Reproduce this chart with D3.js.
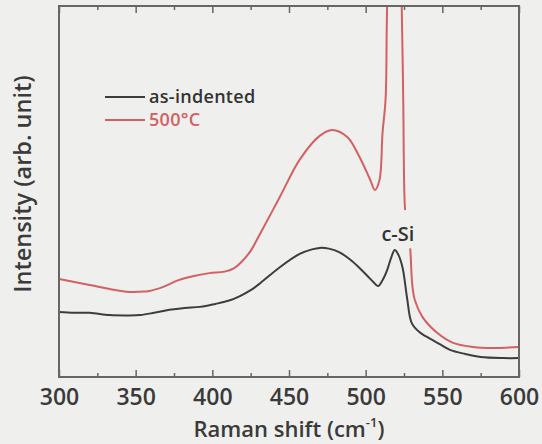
<!DOCTYPE html>
<html><head><meta charset="utf-8">
<script src="https://cdn.jsdelivr.net/npm/d3@7"></script>
<style>
html,body{margin:0;padding:0;background:#efefed;}
svg{display:block;}
text{font-family:"Open Sans",sans-serif;}
</style></head>
<body>
<svg id="chart" width="542" height="444"></svg>
<script>
// Raman shift (cm-1)
const asIndentedX = [300,310,320,333,345,353,362,372,382,392,402,411,418,425,431,444,457,465,470,476,483,490,496,501,505,508,511,514,517,519,521,524,527,530,535,540,548,555,565,575,590,600];
const asIndentedY = [17.5,17.3,17.3,16.7,16.6,16.7,17.3,18.1,18.6,18.9,19.7,20.6,21.8,23.4,25.2,29.6,33.2,34.4,34.8,34.6,33.6,31.6,29.4,27.3,25.6,24.5,26.1,28.8,32.6,34.2,33.2,29.6,21.3,14.6,12.1,10.8,8.9,7.3,6.2,5.4,5.1,5.1];
const annealedX = [300,310,320,333,346,353,359,368,378,388,398,408,414,419,425,431,444,457,470,478,488,496,503,506,509,511,513,514,519,523.5,524.5,525.7,527.5,529,530.3,532,537,546.6,557,570,583,600];
const annealedY = [26.4,25.6,24.8,23.7,22.9,23.0,23.2,24.3,26.1,27.2,28.0,28.4,29.3,31.0,34.0,38.5,48.5,58.6,65.0,66.6,64.7,59.3,53.1,50.4,53.1,65.8,75,100,160,100,74.7,45.0,39,34.8,25.3,20.8,16.2,11.9,9.2,8.1,7.8,8.1];
const seriesNames = ["as-indented","500°C"];
const seriesColors = ["#3d3d3d","#d36062"];
const xMajorTicks = [300,350,400,450,500,550,600];
const xMinorTicks = [325,375,425,475,525,575];

const svg = d3.select("#chart");
const L=59, R=519, T=6, B=377;
const x = d3.scaleLinear().domain([300,600]).range([L,R]);
const y = d3.scaleLinear().domain([0,100]).range([B,T]);

svg.append("defs").append("clipPath").attr("id","clip")
  .append("rect").attr("x",L).attr("y",T).attr("width",R-L).attr("height",B-T);

const line = d3.line().x(d=>x(d[0])).y(d=>y(d[1])).curve(d3.curveCatmullRom.alpha(0.5));
const s1 = asIndentedX.map((v,i)=>[v,asIndentedY[i]]);
const s2 = annealedX.map((v,i)=>[v,annealedY[i]]);

const g = svg.append("g").attr("clip-path","url(#clip)");
g.append("path").datum(s2).attr("d",line).attr("fill","none").attr("stroke",seriesColors[1]).attr("stroke-width",2);
g.append("path").datum(s1).attr("d",line).attr("fill","none").attr("stroke",seriesColors[0]).attr("stroke-width",2);

// c-Si label with background
svg.append("rect").attr("x",x(512)).attr("y",y(45)).attr("width",x(530)-x(512)).attr("height",y(34.8)-y(45)+0.5).attr("fill","#efefed");
svg.append("text").attr("x",x(521)).attr("y",241).attr("text-anchor","middle")
  .attr("font-size",20).attr("font-weight",600).attr("fill","#333").text("c-Si");

// axes
const axColor="#666";
const bAx = svg.append("g").attr("transform",`translate(0,${B})`)
  .call(d3.axisBottom(x).tickValues(xMajorTicks).tickSize(-7).tickPadding(12).tickFormat(d3.format("d")));
const bMin = svg.append("g").attr("transform",`translate(0,${B})`)
  .call(d3.axisBottom(x).tickValues(xMinorTicks).tickSize(-4).tickFormat(""));
const tAx = svg.append("g").attr("transform",`translate(0,${T})`)
  .call(d3.axisTop(x).tickValues(xMajorTicks).tickSize(-7).tickFormat(""));
const tMin = svg.append("g").attr("transform",`translate(0,${T})`)
  .call(d3.axisTop(x).tickValues(xMinorTicks).tickSize(-4).tickFormat(""));
[bAx,bMin,tAx,tMin].forEach(a=>{
  a.select(".domain").remove();
  a.selectAll(".tick line").attr("stroke",axColor).attr("stroke-width",1.5);
});
bAx.selectAll(".tick text").attr("font-size",23).attr("font-weight",600).attr("fill","#3a3a3a").attr("font-family","'Open Sans',sans-serif");

svg.append("rect").attr("x",L).attr("y",T).attr("width",R-L).attr("height",B-T)
  .attr("fill","none").attr("stroke",axColor).attr("stroke-width",2);

// axis titles
const xt = svg.append("text").attr("x",(L+R)/2).attr("y",437).attr("text-anchor","middle")
  .attr("font-size",22).attr("font-weight",600).attr("fill","#3a3a3a");
xt.append("tspan").text("Raman shift (cm");
xt.append("tspan").attr("font-size",13).attr("dy",-10).text("-1");
xt.append("tspan").attr("dy",10).text(")");

svg.append("text").attr("transform","translate(31,184) rotate(-90)").attr("text-anchor","middle")
  .attr("font-size",23.5).attr("font-weight",600).attr("fill","#3a3a3a").text("Intensity (arb. unit)");

// legend
const legY=[97,120];
seriesNames.forEach((n,i)=>{
  svg.append("line").attr("x1",105).attr("x2",145).attr("y1",legY[i]).attr("y2",legY[i])
    .attr("stroke",seriesColors[i]).attr("stroke-width",2);
  svg.append("text").attr("x",149).attr("y",legY[i]).attr("dy","0.35em")
    .attr("font-size",18).attr("font-weight",600).attr("letter-spacing",0.3).attr("fill",i===0?"#333":seriesColors[1]).text(n);
});
</script>
</body></html>
